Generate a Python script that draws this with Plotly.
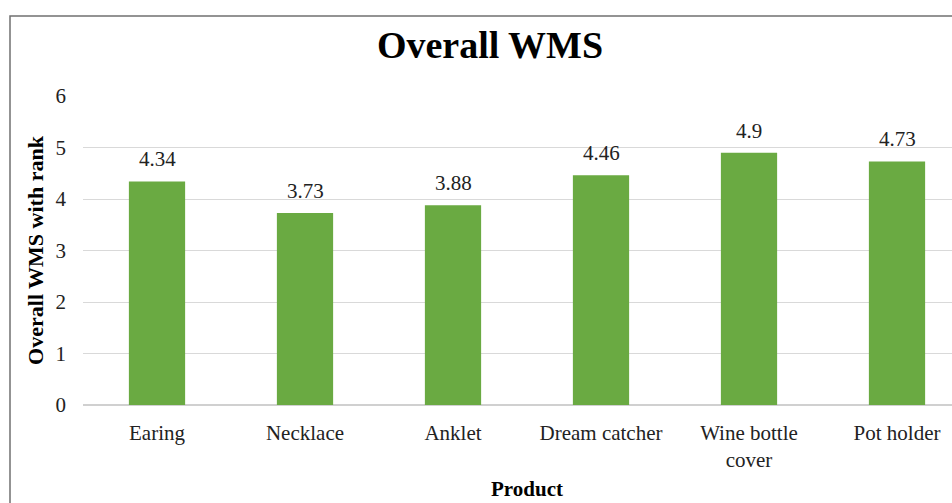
import plotly.graph_objects as go

products = ["Earing", "Necklace", "Anklet", "Dream catcher", "Wine bottle<br>cover", "Pot holder"]
wms = [4.34, 3.73, 3.88, 4.46, 4.9, 4.73]
wms_labels = ["4.34", "3.73", "3.88", "4.46", "4.9", "4.73"]
y_ticks = [0, 1, 2, 3, 4, 5, 6]

W, H = 990, 503
L, R, T, B = 83, 19, 96, 98
pw, ph = W - L - R, H - T - B

serif = "Liberation Serif"

fig = go.Figure()
fig.add_trace(go.Bar(
    x=products, y=wms,
    marker=dict(color="#6aaa42", line=dict(width=0)),
    hoverinfo="x+y",
))

for p, v, t in zip(products, wms, wms_labels):
    fig.add_annotation(x=p, y=v, text=t, showarrow=False, yanchor="bottom",
                       yshift=8, font=dict(family=serif, size=21, color="#222222"))

# chart-area border (extends past the window on right and bottom)
fig.add_shape(type="rect", xref="paper", yref="paper",
              x0=(10 - L) / pw, x1=(W + 10 - L) / pw,
              y0=(H - B - (H + 20)) / ph, y1=(H - B - 16) / ph,
              line=dict(color="#707070", width=1.5), fillcolor="rgba(0,0,0,0)", layer="above")

fig.update_layout(
    width=W, height=H,
    margin=dict(l=L, r=R, t=T, b=B, pad=0, autoexpand=False),
    paper_bgcolor="white", plot_bgcolor="white",
    bargap=0.62,
    showlegend=False,
    title=dict(text="<b>Overall WMS</b>", x=490 / W, xanchor="center", xref="container",
               y=1 - 45 / H, yanchor="middle", yref="container",
               font=dict(family=serif, size=38, color="#000000")),
    font=dict(family=serif, size=21, color="#222222"),
    xaxis=dict(
        title=dict(text="<b>Product</b>", font=dict(family=serif, size=21, color="#000000"), standoff=10),
        tickfont=dict(family=serif, size=21, color="#222222"),
        showline=False, showgrid=False, ticks="", ticklabelstandoff=13, automargin=False,
    ),
    yaxis=dict(
        title=dict(text="<b>Overall WMS with rank</b>", font=dict(family=serif, size=22, color="#000000"), standoff=5),
        range=[0, 6], tickvals=y_ticks, ticktext=[str(t) for t in y_ticks],
        tickfont=dict(family=serif, size=21, color="#222222"),
        showgrid=True, gridcolor="#d9d9d9", gridwidth=1,
        zeroline=True, zerolinecolor="#d0d0d0", zerolinewidth=1.5,
        showline=False, ticks="", ticklabelstandoff=16, automargin=False,
    ),
)

fig.write_html("out.html")
